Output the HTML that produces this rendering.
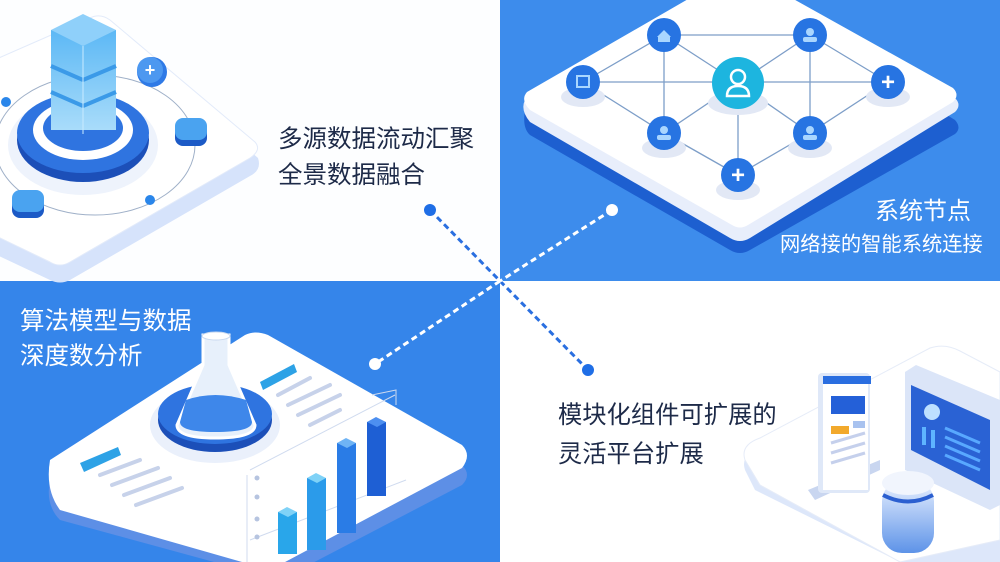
<!DOCTYPE html>
<html><head><meta charset="utf-8"><style>
html,body{margin:0;padding:0;width:1000px;height:562px;overflow:hidden;background:#fff}
svg{display:block}
text{font-family:"Liberation Sans","Noto Sans CJK SC",sans-serif}
</style></head><body>
<svg width="1000" height="562" viewBox="0 0 1000 562" xmlns="http://www.w3.org/2000/svg">
<defs>
<linearGradient id="tw" x1="0" y1="0" x2="0" y2="1"><stop offset="0" stop-color="#5cb8f5"/><stop offset="1" stop-color="#a9dcfa"/></linearGradient>
<linearGradient id="cyl" x1="0" y1="0" x2="0" y2="1"><stop offset="0" stop-color="#e8f0ff"/><stop offset="1" stop-color="#5d93e8"/></linearGradient>
</defs>
<rect x="0" y="0" width="500" height="281" fill="#fdfeff"/>
<rect x="500" y="0" width="500" height="281" fill="#3d8cec"/>
<rect x="0" y="281" width="500" height="281" fill="#3585ea"/>
<rect x="500" y="281" width="500" height="281" fill="#ffffff"/>

<path d="M-120 125 L90 25 Q100 20 110 27 L258 158 Q262 170 250 176 L70 280 Q60 285 50 280 L-120 200 Z" fill="#d6e3fb"/>
<path d="M-120 110 L90 18 Q100 13 110 20 L255 142 Q262 150 250 158 L70 262 Q60 268 50 262 L-120 180 Z" fill="#ffffff" stroke="#e3ebfa"/>
<ellipse cx="95" cy="145" rx="100" ry="70" fill="none" stroke="#9fb0c8" stroke-width="1"/>
<ellipse cx="83" cy="145" rx="75" ry="50" fill="#eef3fc"/>
<ellipse cx="83" cy="140" rx="66" ry="42" fill="#1c4fb8"/>
<ellipse cx="83" cy="133" rx="66" ry="40" fill="#2f74e0"/>
<ellipse cx="83" cy="130" rx="50" ry="30" fill="#ffffff"/>
<ellipse cx="83" cy="128" rx="40" ry="23" fill="#2f74e0"/>
<rect x="51" y="30" width="65" height="100" fill="url(#tw)"/>
<polygon points="51,30 83,14 116,30 83,46" fill="#8fd0fa"/>
<line x1="51" y1="66" x2="83" y2="80" stroke="#3b9ae8" stroke-width="4"/><line x1="83" y1="80" x2="116" y2="66" stroke="#3b9ae8" stroke-width="4"/>
<line x1="51" y1="92" x2="83" y2="106" stroke="#3b9ae8" stroke-width="4"/><line x1="83" y1="106" x2="116" y2="92" stroke="#3b9ae8" stroke-width="4"/>
<line x1="83" y1="46" x2="83" y2="134" stroke="#c9ebff" stroke-width="1"/>
<circle cx="152" cy="72" r="15" fill="#2f7ae6"/><circle cx="150" cy="70" r="13" fill="#4d98f0"/>
<text x="150" y="76" font-size="18" fill="#fff" text-anchor="middle" font-weight="bold">+</text>
<rect x="175" y="120" width="32" height="26" rx="8" fill="#1c5ac6"/><rect x="175" y="118" width="32" height="22" rx="8" fill="#4aa3f0"/>
<rect x="12" y="192" width="32" height="26" rx="8" fill="#1c5ac6"/><rect x="12" y="190" width="32" height="22" rx="8" fill="#4aa3f0"/>
<circle cx="6" cy="102" r="5" fill="#2a86ea"/><circle cx="150" cy="200" r="5" fill="#2a86ea"/>
<text x="278" y="147" font-size="24.5" fill="#1d2a48">多源数据流动汇聚</text>
<text x="278" y="183" font-size="24.5" fill="#1d2a48">全景数据融合</text>

<path d="M525 110 L735 -10 Q740 -13 745 -10 L955 120 Q962 128 955 134 L750 250 Q740 256 730 250 L530 135 Q522 128 525 110 Z" fill="#1d5fd0"/>
<path d="M525 100 L735 -20 Q740 -23 745 -20 L955 98 Q962 105 955 112 L750 238 Q740 244 730 238 L530 122 Q520 110 525 100 Z" fill="#e8eefb"/>
<path d="M527 92 L735 -28 Q740 -31 745 -28 L953 88 Q960 95 953 102 L748 225 Q740 230 732 225 L530 110 Q520 100 527 92 Z" fill="#ffffff"/>
<g stroke="#7d9ec8" stroke-width="1.3" fill="none">
<line x1="664" y1="35" x2="810" y2="35"/><line x1="583" y1="82" x2="888" y2="82"/>
<line x1="664" y1="35" x2="583" y2="82"/><line x1="664" y1="35" x2="738" y2="83"/><line x1="664" y1="35" x2="664" y2="133"/>
<line x1="810" y1="35" x2="738" y2="83"/><line x1="810" y1="35" x2="888" y2="82"/><line x1="810" y1="35" x2="810" y2="133"/>
<line x1="583" y1="82" x2="664" y2="133"/><line x1="888" y1="82" x2="810" y2="133"/>
<line x1="738" y1="83" x2="664" y2="133"/><line x1="738" y1="83" x2="810" y2="133"/><line x1="738" y1="83" x2="738" y2="175"/>
<line x1="664" y1="133" x2="738" y2="175"/><line x1="810" y1="133" x2="738" y2="175"/>
</g>
<g fill="#e2e8f5">
<ellipse cx="664" cy="148" rx="22" ry="10"/><ellipse cx="810" cy="148" rx="22" ry="10"/><ellipse cx="738" cy="190" rx="22" ry="10"/>
<ellipse cx="583" cy="97" rx="22" ry="10"/><ellipse cx="888" cy="97" rx="22" ry="10"/><ellipse cx="738" cy="103" rx="30" ry="12"/>
</g>
<g fill="#2774e2">
<circle cx="664" cy="35" r="17"/><circle cx="810" cy="35" r="17"/><circle cx="583" cy="82" r="17"/><circle cx="888" cy="82" r="17"/>
<circle cx="664" cy="133" r="17"/><circle cx="810" cy="133" r="17"/><circle cx="738" cy="175" r="17"/>
</g>
<circle cx="738" cy="83" r="26" fill="#1db5df"/>
<circle cx="738" cy="77" r="7" fill="none" stroke="#fff" stroke-width="2.5"/>
<path d="M727 96 Q727 86 738 86 Q749 86 749 96 Z" fill="none" stroke="#fff" stroke-width="2.5"/>
<g fill="#a9d6ff"><circle cx="664" cy="130" r="4"/><rect x="657" y="135" width="14" height="5" rx="2"/>
<circle cx="810" cy="130" r="4"/><rect x="803" y="135" width="14" height="5" rx="2"/>
<circle cx="810" cy="32" r="4"/><rect x="803" y="37" width="14" height="5" rx="2"/>
<polygon points="657,37 664,30 671,37"/><rect x="658" y="37" width="12" height="5"/>
<rect x="577" y="76" width="12" height="11" fill="none" stroke="#a9d6ff" stroke-width="2"/></g>
<text x="888" y="90" font-size="24" fill="#fff" text-anchor="middle" font-weight="bold">+</text>
<text x="738" y="183" font-size="24" fill="#fff" text-anchor="middle" font-weight="bold">+</text>
<text x="875" y="219" font-size="24" fill="#fff">系统节点</text>
<text x="780" y="251" font-size="20.3" fill="#fff">网络接的智能系统连接</text>

<path d="M50 480 L245 345 Q255 340 268 345 L462 465 Q472 475 462 485 L280 580 L60 520 Q45 505 50 480 Z" fill="#5d8fe6"/>
<path d="M50 460 L245 335 Q255 330 268 335 L462 445 Q472 455 462 468 L270 570 L60 510 Q45 490 50 460 Z" fill="#ffffff"/>
<ellipse cx="215" cy="425" rx="65" ry="38" fill="#eaf0fb"/>
<ellipse cx="215" cy="420" rx="57" ry="32" fill="#1c4fb8"/>
<ellipse cx="215" cy="414" rx="57" ry="30" fill="#2f74e0"/>
<path d="M203 335 L229 335 L229 365 L255 425 Q255 438 215 438 Q177 438 177 425 L203 365 Z" fill="#e7f0fb" stroke="#ffffff" stroke-width="3"/>
<path d="M186 400 Q215 390 246 400 L252 422 Q252 432 215 432 Q180 432 180 422 Z" fill="#3e87ea"/>
<ellipse cx="216" cy="336" rx="14" ry="4" fill="#fff" stroke="#c9d8ef"/>
<g fill="#2da2e6"><polygon points="260,382 294,364 297,372 263,390"/><polygon points="80,463 118,447 121,455 84,472"/></g>
<g stroke="#c7d2ea" stroke-width="4" stroke-linecap="round">
<line x1="278" y1="395" x2="310" y2="378"/><line x1="288" y1="405" x2="330" y2="385"/><line x1="298" y1="415" x2="340" y2="395"/><line x1="310" y1="425" x2="340" y2="410"/>
<line x1="100" y1="475" x2="140" y2="460"/><line x1="112" y1="485" x2="158" y2="468"/><line x1="124" y1="495" x2="170" y2="478"/><line x1="136" y1="505" x2="182" y2="488"/>
</g>
<g stroke="#d0dbef" stroke-width="1" fill="none"><line x1="247" y1="475" x2="247" y2="562"/><line x1="250" y1="540" x2="406" y2="480"/><line x1="250" y1="470" x2="395" y2="395"/><polyline points="372,395 396,390 396,405"/></g>
<g fill="#b6c4e0"><circle cx="257" cy="478" r="2.5"/><circle cx="257" cy="497" r="2.5"/><circle cx="257" cy="519" r="2.5"/><circle cx="257" cy="537" r="2.5"/></g>
<g><rect x="278" y="512" width="19" height="42" fill="#29a6ea"/><polygon points="278,512 287,507 297,512 288,517" fill="#7fd2f7"/>
<rect x="307" y="478" width="19" height="72" fill="#2b9bea"/><polygon points="307,478 316,473 326,478 317,483" fill="#7fd2f7"/>
<rect x="337" y="443" width="19" height="90" fill="#2a7ce6"/><polygon points="337,443 346,438 356,443 347,448" fill="#6fb4f5"/>
<rect x="367" y="422" width="19" height="74" fill="#1e5fd4"/><polygon points="367,422 376,417 386,422 377,427" fill="#4d8ff0"/></g>
<text x="20" y="329" font-size="24.5" fill="#fff">算法模型与数据</text>
<text x="20" y="364" font-size="24.5" fill="#fff">深度数分析</text>

<path d="M745 470 Q740 455 760 448 L930 355 Q945 350 960 358 L1000 380 L1000 562 L900 562 L755 490 Z" fill="#dde7fa"/>
<path d="M745 460 Q740 445 760 438 L930 348 Q945 343 960 351 L1000 372 L1000 540 L900 562 L760 485 Z" fill="#ffffff" stroke="#e6ecf8"/>
<polygon points="808,490 880,460 880,470 815,500" fill="#c9d6f0"/>
<rect x="818" y="373" width="52" height="120" rx="4" fill="#dfe8f8"/>
<rect x="823" y="378" width="45" height="112" fill="#fff"/>
<rect x="823" y="376" width="48" height="8" fill="#2a6ee0"/>
<rect x="831" y="396" width="34" height="18" fill="#2460d8"/>
<rect x="831" y="426" width="18" height="8" fill="#f2a92c"/><rect x="853" y="421" width="12" height="7" fill="#a8c2ef"/>
<g stroke="#c5d0ec" stroke-width="3"><line x1="831" y1="443" x2="865" y2="433"/><line x1="831" y1="453" x2="865" y2="443"/><line x1="831" y1="463" x2="865" y2="453"/></g>
<polygon points="905,372 916,365 1000,400 1000,505 990,510 905,470" fill="#dbe5f8"/>
<polygon points="911,385 990,420 990,490 911,450" fill="#2a62d4"/>
<circle cx="932" cy="412" r="8" fill="#bde0ff"/>
<rect x="922" y="427" width="4" height="18" fill="#5eb4ff"/><rect x="931" y="430" width="4" height="18" fill="#5eb4ff"/>
<g stroke="#58a8ff" stroke-width="3"><line x1="945" y1="428" x2="980" y2="443"/><line x1="945" y1="437" x2="980" y2="452"/><line x1="945" y1="446" x2="980" y2="461"/><line x1="945" y1="455" x2="980" y2="470"/></g>
<rect x="882" y="481" width="52" height="72" rx="20" fill="url(#cyl)"/>
<ellipse cx="908" cy="483" rx="26" ry="12" fill="#f1f5fd"/>
<path d="M883 495 Q908 508 933 495" stroke="#2b5fd0" stroke-width="4" fill="none"/>
<text x="558" y="423" font-size="24.3" fill="#1d2a48">模块化组件可扩展的</text>
<text x="558" y="462" font-size="24.3" fill="#1d2a48">灵活平台扩展</text>

<line x1="430" y1="210" x2="500" y2="281" stroke="#2a6fe0" stroke-width="3" stroke-dasharray="6,4"/>
<line x1="500" y1="281" x2="588" y2="370" stroke="#2a6fe0" stroke-width="3" stroke-dasharray="6,4"/>
<line x1="612" y1="210" x2="500" y2="281" stroke="#ffffff" stroke-width="3" stroke-dasharray="6,4"/>
<line x1="500" y1="281" x2="375" y2="364" stroke="#ffffff" stroke-width="3" stroke-dasharray="6,4"/>
<circle cx="430" cy="210" r="6" fill="#1f6ee6"/>
<circle cx="588" cy="370" r="6" fill="#1f6ee6"/>
<circle cx="612" cy="210" r="6" fill="#ffffff"/>
<circle cx="375" cy="364" r="6" fill="#ffffff"/>
</svg>
</body></html>
